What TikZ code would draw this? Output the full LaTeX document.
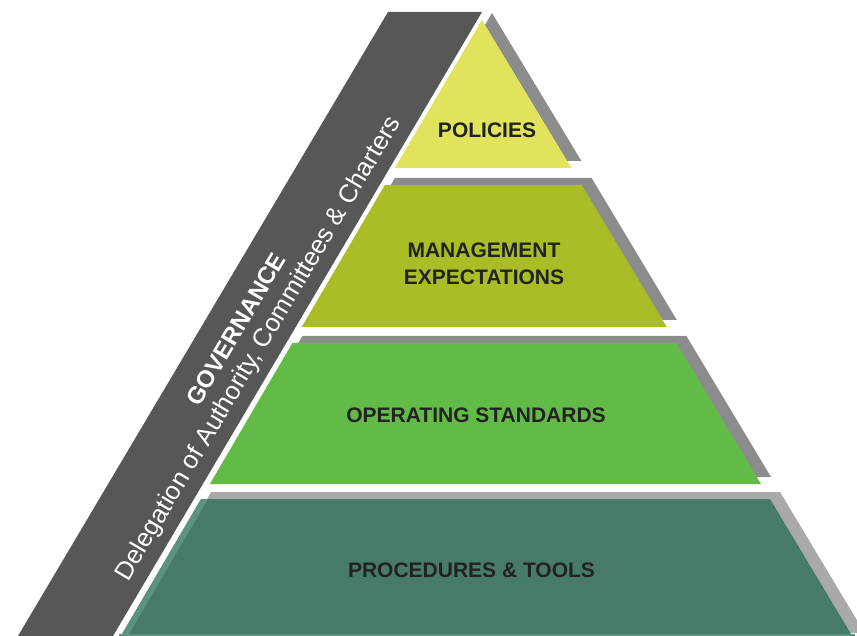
\documentclass[tikz,border=0pt]{standalone}
\usepackage{fontspec}
\setmainfont{Liberation Sans}
\definecolor{bandgrey}{HTML}{575757}
\definecolor{tierA}{HTML}{E2E35C}
\definecolor{tierB}{HTML}{AABD26}
\definecolor{tierC}{HTML}{63BB47}
\definecolor{tierD}{HTML}{477B68}
\definecolor{tierDedge}{HTML}{5C937F}
\definecolor{shadowdark}{HTML}{8C8C8C}
\definecolor{shadowlight}{HTML}{A9A9A9}
\definecolor{labeldark}{HTML}{222222}
\begin{document}
\begin{tikzpicture}[x=1pt,y=-1pt,
  tiertext/.style={font=\fontsize{21}{27}\selectfont\bfseries, text=labeldark,
    inner sep=0pt, align=center, anchor=base},
  bandtext/.style={text=white, inner sep=0pt, anchor=center, rotate=59.33}]
\useasboundingbox (0,0) rectangle (857,636);
\clip (0,0) rectangle (857,636);

% governance band
\fill[bandgrey] (388,12) -- (482,12) -- (113,636) -- (18,636) -- cycle;

% drop shadows of the four tiers
\begin{scope}[shift={(10,-7)}]
  \fill[shadowdark] (482,20) -- (571.4,168) -- (394.8,168) -- cycle;
  \fill[shadowdark] (384.8,185) -- (581.6,185) -- (666.8,327) -- (301.7,327) -- cycle;
  \fill[shadowdark] (292.4,343) -- (676.4,343) -- (761,484) -- (209.9,484) -- cycle;
  \fill[shadowlight] (201.1,499) -- (770,499) -- (854.6,640) -- (118.6,640) -- cycle;
\end{scope}

% tiers
\fill[tierA] (482,20) -- (571.4,168) -- (394.8,168) -- cycle;
\fill[tierB] (384.8,185) -- (581.6,185) -- (666.8,327) -- (301.7,327) -- cycle;
\fill[tierC] (292.4,343) -- (676.4,343) -- (761,484) -- (209.9,484) -- cycle;
\fill[tierD] (201.1,499) -- (770,499) -- (854.6,640) -- (118.6,640) -- cycle;
\fill[tierDedge] (201.1,499) -- (208,499) -- (125.5,640) -- (118.6,640) -- cycle;
\fill[tierDedge] (118.6,634) -- (854.6,634) -- (854.6,640) -- (118.6,640) -- cycle;

% tier labels (base = baseline of the last line)
\node[tiertext] (policies) at (487,138) {POLICIES};
\node[tiertext] (mgmt) at (484,285) {MANAGEMENT\\EXPECTATIONS};
\node[tiertext] (operating) at (476,422) {OPERATING STANDARDS};
\node[tiertext] (procedures) at (471.5,577) {PROCEDURES \& TOOLS};

% band labels
\node[bandtext, font=\fontsize{24}{28}\selectfont\bfseries] (governance) at (236,329) {GOVERNANCE};
\node[bandtext, font=\fontsize{25.5}{30}\selectfont] (delegation) at (259,349)
  {Delegation of Authority, Committees \& Charters};
\end{tikzpicture}
\end{document}
